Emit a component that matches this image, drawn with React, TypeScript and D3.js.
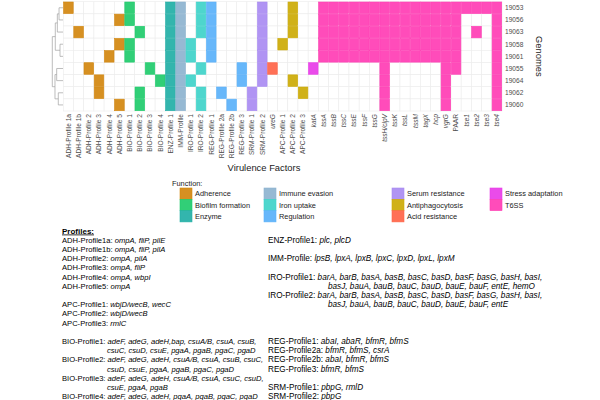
import React, { useEffect, useRef } from 'react';
import * as d3 from 'd3';

const factors = [
  'ADH-Profile 1a', 'ADH-Profile 1b', 'ADH-Profile 2', 'ADH-Profile 3', 'ADH-Profile 4', 'ADH-Profile 5',
  'BIO-Profile 1', 'BIO-Profile 2', 'BIO-Profile 3', 'BIO-Profile 4', 'ENZ-Profile 1', 'IMM-Profile',
  'IRO-Profile 1', 'IRO-Profile 2', 'REG-Profile 1', 'REG-Profile 2a', 'REG-Profile 2b', 'REG-Profile 3',
  'SRM-Profile 1', 'SRM-Profile 2', 'ureG', 'APC-Profile 1', 'APC-Profile 2', 'APC-Profile 3', 'katA',
  'tssA', 'tssB', 'tssC', 'tssE', 'tssF', 'tssG', 'tssH/clpV', 'tssK', 'tssL', 'tssM', 'tagX', 'hcp',
  'vgrG', 'PAAR', 'tse1', 'tse2', 'tse3', 'tse4',
];

const factorFunction = [
  'Adherence', 'Adherence', 'Adherence', 'Adherence', 'Adherence', 'Adherence',
  'Biofilm formation', 'Biofilm formation', 'Biofilm formation', 'Biofilm formation', 'Enzyme', 'Immune evasion',
  'Iron uptake', 'Iron uptake', 'Regulation', 'Regulation', 'Regulation', 'Regulation',
  'Serum resistance', 'Serum resistance', 'Acid resistance', 'Antiphagocytosis', 'Antiphagocytosis', 'Antiphagocytosis', 'Stress adaptation',
  'T6SS', 'T6SS', 'T6SS', 'T6SS', 'T6SS', 'T6SS', 'T6SS', 'T6SS', 'T6SS', 'T6SS', 'T6SS', 'T6SS',
  'T6SS', 'T6SS', 'T6SS', 'T6SS', 'T6SS', 'T6SS',
];

// genomes in dendrogram order, top to bottom
const genomes = ['19053', '19056', '19063', '19058', '19061', '19055', '19064', '19062', '19060'];

// presence (1) / absence (0) of each factor, same order as `factors`
const presence = [
  '1000001000' + '1101100001' + '0010011111' + '1111111111' + '111',
  '0000011000' + '1101100001' + '0010011111' + '1111111110' + '001',
  '0100000100' + '1101100001' + '0010011111' + '1111111110' + '101',
  '0000011000' + '1110100001' + '0100011111' + '1111111110' + '001',
  '0000101000' + '1110100001' + '0000011111' + '1111111110' + '001',
  '0010000010' + '1101000101' + '1000100000' + '0100000110' + '001',
  '0001000001' + '1110000101' + '0010000000' + '0100000100' + '001',
  '0001000100' + '1101010010' + '0001000000' + '0100000100' + '001',
  '0000010100' + '1101001010' + '0000000000' + '0100000100' + '001',
];

const functions = [
  'Adherence', 'Biofilm formation', 'Enzyme',
  'Immune evasion', 'Iron uptake', 'Regulation',
  'Serum resistance', 'Antiphagocytosis', 'Acid resistance',
  'Stress adaptation', 'T6SS',
];
const functionColors = [
  '#d3870f', '#1fcb6b', '#22afa6',
  '#8db3cf', '#3fd3c9', '#5ab1fa',
  '#a98bf2', '#ccaa05', '#ff6448',
  '#e83ce8', '#ff3db4',
];

// hierarchical clustering of genomes (merge heights, relative)
const tree = {
  h: 1.0, children: [
    { h: 0.72, children: [
      { h: 0.53, children: [
        { h: 0.37, children: [{ name: '19053' }, { name: '19056' }] },
        { name: '19063' },
      ] },
      { h: 0.28, children: [{ name: '19058' }, { name: '19061' }] },
    ] },
    { h: 0.75, children: [
      { h: 0.59, children: [{ name: '19055' }, { name: '19064' }] },
      { h: 0.44, children: [{ name: '19062' }, { name: '19060' }] },
    ] },
  ],
};

// profile legend text: [label, genes, continued genes]
const profilesLeft: (string[] | null)[] = [
  ['ADH-Profile1a: ', 'ompA, fliP, pilE'],
  ['ADH-Profile1b: ', 'ompA, fliP, pilA'],
  ['ADH-Profile2: ', 'ompA, pilA'],
  ['ADH-Profile3: ', 'ompA, fliP'],
  ['ADH-Profile4: ', 'ompA, wbpI'],
  ['ADH-Profile5: ', 'ompA'],
  null,
  ['APC-Profile1: ', 'wbjD/wecB, wecC'],
  ['APC-Profile2: ', 'wbjD/wecB'],
  ['APC-Profile3: ', 'rmlC'],
  null,
  ['BIO-Profile1: ', 'adeF, adeG, adeH,bap, csuA/B, csuA, csuB,', 'csuC, csuD, csuE, pgaA, pgaB, pgaC, pgaD'],
  ['BIO-Profile2: ', 'adeF, adeG, adeH, csuA/B, csuA, csuB, csuC,', 'csuD, csuE, pgaA, pgaB, pgaC, pgaD'],
  ['BIO-Profile3: ', 'adeF, adeG, adeH, csuA/B, csuA, csuC, csuD,', 'csuE, pgaA, pgaB'],
  ['BIO-Profile4: ', 'adeF, adeG, adeH, pgaA, pgaB, pgaC, pgaD'],
];
const profilesRight: (string[] | null)[] = [
  ['ENZ-Profile1: ', 'plc, plcD'],
  null,
  ['IMM-Profile: ', 'lpsB, lpxA, lpxB, lpxC, lpxD, lpxL, lpxM'],
  null,
  ['IRO-Profile1: ', 'barA, barB, basA, basB, basC, basD, basF, basG, basH, basI,', 'basJ, bauA, bauB, bauC, bauD, bauE, bauF, entE, hemO'],
  ['IRO-Profile2: ', 'barA, barB, basA, basB, basC, basD, basF, basG, basH, basI,', 'basJ, bauA, bauB, bauC, bauD, bauE, bauF, entE'],
  null,
  null,
  null,
  ['REG-Profile1: ', 'abaI, abaR, bfmR, bfmS'],
  ['REG-Profile2a: ', 'bfmR, bfmS, csrA'],
  ['REG-Profile2b: ', 'abaI, bfmR, bfmS'],
  ['REG-Profile3: ', 'bfmR, bfmS'],
  null,
  ['SRM-Profile1: ', 'pbpG, rmlD'],
  ['SRM-Profile2: ', 'pbpG'],
];

const FONT = '"Liberation Sans", Arial, sans-serif';

export default function App() {
  const svgRef = useRef<SVGSVGElement>(null);

  useEffect(() => {
    if (!svgRef.current) return;
    const svg = d3.select(svgRef.current);
    svg.selectAll('*').remove();

    const clip = svg.append('defs').append('clipPath').attr('id', 'text-clip');
    clip.append('rect').attr('x', 0).attr('y', 0).attr('width', 552).attr('height', 400);

    const root = svg.append('g');

    const x = d3.scaleBand<string>().domain(factors).range([63.3, 502]);
    const y = d3.scaleBand<string>().domain(genomes).range([1.7, 111]);
    const color = d3.scaleOrdinal<string, string>().domain(functions).range(functionColors);

    // cells
    const cells = genomes.flatMap((g, r) =>
      factors.map((f, c) => ({ g, f, fn: factorFunction[c], on: presence[r][c] === '1' })));

    root.append('g').selectAll('rect')
      .data(cells)
      .enter()
      .append('rect')
      .attr('x', d => x(d.f)!)
      .attr('y', d => y(d.g)!)
      .attr('width', x.bandwidth())
      .attr('height', y.bandwidth())
      .attr('fill', '#ffffff')
      .attr('stroke', '#ececec')
      .attr('stroke-width', 0.6);

    root.append('g').selectAll('rect')
      .data(cells.filter(d => d.on))
      .enter()
      .append('rect')
      .attr('x', d => x(d.f)! + 0.3)
      .attr('y', d => y(d.g)! + 0.3)
      .attr('width', x.bandwidth() - 0.6)
      .attr('height', y.bandwidth() - 0.6)
      .attr('fill', d => color(d.fn))
      .attr('fill-opacity', 0.92)
      .attr('stroke', d => color(d.fn))
      .attr('stroke-width', 0.6);

    // x tick labels
    const italic = (f: string) => !/Profile/.test(f) && f !== 'PAAR';
    root.append('g').selectAll('text')
      .data(factors)
      .enter()
      .append('text')
      .attr('transform', d => `translate(${x(d)! + x.bandwidth() / 2},114) rotate(-90)`)
      .attr('dy', '0.35em')
      .attr('text-anchor', 'end')
      .style('font-family', FONT)
      .style('font-size', '6.6px')
      .style('font-style', d => (italic(d) ? 'italic' : 'normal'))
      .style('fill', '#4d4d4d')
      .text(d => d);

    // y tick labels
    root.append('g').selectAll('text')
      .data(genomes)
      .enter()
      .append('text')
      .attr('x', 505)
      .attr('y', d => y(d)! + y.bandwidth() / 2)
      .attr('dy', '0.35em')
      .style('font-family', FONT)
      .style('font-size', '6.6px')
      .style('fill', '#4d4d4d')
      .text(d => d);

    // axis titles
    root.append('text')
      .attr('x', 264)
      .attr('y', 171)
      .attr('text-anchor', 'middle')
      .style('font-family', FONT)
      .style('font-size', '9.4px')
      .style('fill', '#1a1a1a')
      .text('Virulence Factors');

    root.append('text')
      .attr('transform', `translate(536,${(1.7 + 111) / 2}) rotate(90)`)
      .attr('text-anchor', 'middle')
      .style('font-family', FONT)
      .style('font-size', '9.4px')
      .style('fill', '#1a1a1a')
      .text('Genomes');

    // dendrogram
    const hier = d3.hierarchy<any>(tree);
    const dx = d3.scaleLinear().domain([0, 1]).range([63, 52.3]);
    const nodeY = (n: d3.HierarchyNode<any>): number => {
      if (!n.children) return y(n.data.name)! + y.bandwidth() / 2;
      const ys = n.children.map(nodeY);
      return (ys[0] + ys[ys.length - 1]) / 2;
    };
    const nodeX = (n: d3.HierarchyNode<any>) => dx(n.children ? n.data.h : 0);
    const dendro = root.append('g')
      .attr('fill', 'none')
      .attr('stroke', '#a0a0a0')
      .attr('stroke-width', 0.7);
    hier.descendants().filter(n => n.children).forEach(n => {
      const px = nodeX(n);
      const ys = n.children!.map(nodeY);
      dendro.append('line')
        .attr('x1', px).attr('x2', px)
        .attr('y1', d3.min(ys)!).attr('y2', d3.max(ys)!);
      n.children!.forEach((c, i) => {
        dendro.append('line')
          .attr('x1', px).attr('x2', nodeX(c))
          .attr('y1', ys[i]).attr('y2', ys[i]);
      });
    });

    // legend
    const legend = root.append('g').style('font-family', FONT);
    legend.append('text')
      .attr('x', 172)
      .attr('y', 186)
      .style('font-size', '7.4px')
      .style('fill', '#1a1a1a')
      .text('Function:');
    const colX = [180, 264, 392, 490];
    const keyH = 11.3;
    functions.forEach((fn, i) => {
      const col = Math.floor(i / 3);
      const row = i % 3;
      const ky = 188 + row * keyH;
      legend.append('rect')
        .attr('x', colX[col])
        .attr('y', ky)
        .attr('width', 12)
        .attr('height', keyH)
        .attr('fill', color(fn))
        .attr('fill-opacity', 0.92)
        .attr('stroke', color(fn))
        .attr('stroke-width', 0.6);
      legend.append('text')
        .attr('x', colX[col] + 15)
        .attr('y', ky + keyH / 2)
        .attr('dy', '0.35em')
        .style('font-size', '7.4px')
        .style('fill', '#1a1a1a')
        .text(fn);
    });

    // profile descriptions
    const lineH = 9.2;
    const baseY = 233.5;
    const prof = root.append('g')
      .attr('clip-path', 'url(#text-clip)')
      .style('font-family', FONT)
      .style('fill', '#000000');

    prof.append('text')
      .attr('x', 62)
      .attr('y', baseY)
      .style('font-size', '8px')
      .style('font-weight', 'bold')
      .style('text-decoration', 'underline')
      .text('Profiles:');

    const writeColumn = (rows: (string[] | null)[], x0: number, contX: number, size: string) => {
      let line = 1;
      rows.forEach(r => {
        if (r) {
          const t = prof.append('text')
            .attr('x', x0)
            .attr('y', baseY + line * lineH)
            .style('font-size', size);
          t.append('tspan').text(r[0]);
          t.append('tspan').style('font-style', 'italic').text(r[1]);
          if (r[2]) {
            line += 1;
            prof.append('text')
              .attr('x', contX)
              .attr('y', baseY + line * lineH)
              .style('font-size', size)
              .style('font-style', 'italic')
              .text(r[2]);
          }
        }
        line += 1;
      });
    };
    writeColumn(profilesLeft, 62, 107, '7.6px');
    writeColumn(profilesRight, 268, 328, '8.2px');
  }, []);

  return (
    <svg
      ref={svgRef}
      width={600}
      height={400}
      style={{ position: 'absolute', left: 0, top: 0, background: '#ffffff' }}
    />
  );
}
